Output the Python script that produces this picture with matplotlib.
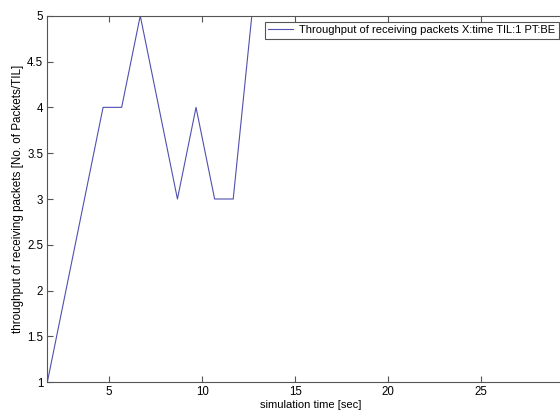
import matplotlib
matplotlib.use("Agg")
import matplotlib.pyplot as plt

# values
time_sec = [1.67, 2.67, 3.67, 4.67, 5.67, 6.67, 7.67, 8.67, 9.67, 10.67, 11.67, 12.67]
throughput = [1, 2, 3, 4, 4, 5, 4, 3, 4, 3, 3, 5]
x_ticks = [5, 10, 15, 20, 25]
y_ticks = [1, 1.5, 2, 2.5, 3, 3.5, 4, 4.5, 5]
legend_label = "Throughput of receiving packets X:time TIL:1 PT:BE"

plt.rcParams['font.family'] = ['Liberation Sans', 'DejaVu Sans']
plt.rcParams['font.size'] = 8

fig = plt.figure(figsize=(5.6, 4.11), dpi=100)
ax = fig.add_axes([47.3 / 560, 1 - 382.3 / 411, 526.7 / 560, 366.6 / 411])

ax.plot(time_sec, throughput, color='#5050b0', linewidth=0.8, label=legend_label)

ax.set_xlim(1.67, 30)
ax.set_ylim(1, 5)
ax.set_xticks(x_ticks)
ax.set_yticks(y_ticks)
ax.set_yticklabels([f"{v:g}" for v in y_ticks])

ax.tick_params(direction='in', length=4, width=0.8, color='#555555',
               top=True, right=True, labelsize=8.3, pad=3)
for s in ax.spines.values():
    s.set_color('#555555')
    s.set_linewidth(0.8)

ax.set_xlabel("simulation time [sec]", fontsize=8, labelpad=1)
ax.set_ylabel("throughput of receiving packets [No. of Packets/TIL]", fontsize=8.4, labelpad=2)

leg = ax.legend(loc='upper left', bbox_to_anchor=(265 / 560, 1 - 22 / 411),
                bbox_transform=fig.transFigure, fancybox=False, framealpha=1,
                edgecolor='#555555', borderpad=0.3, handlelength=2.2,
                handletextpad=0.6, borderaxespad=0, fontsize=8)
leg.get_frame().set_linewidth(0.8)

fig.savefig("out.png", dpi=100, facecolor='white')
